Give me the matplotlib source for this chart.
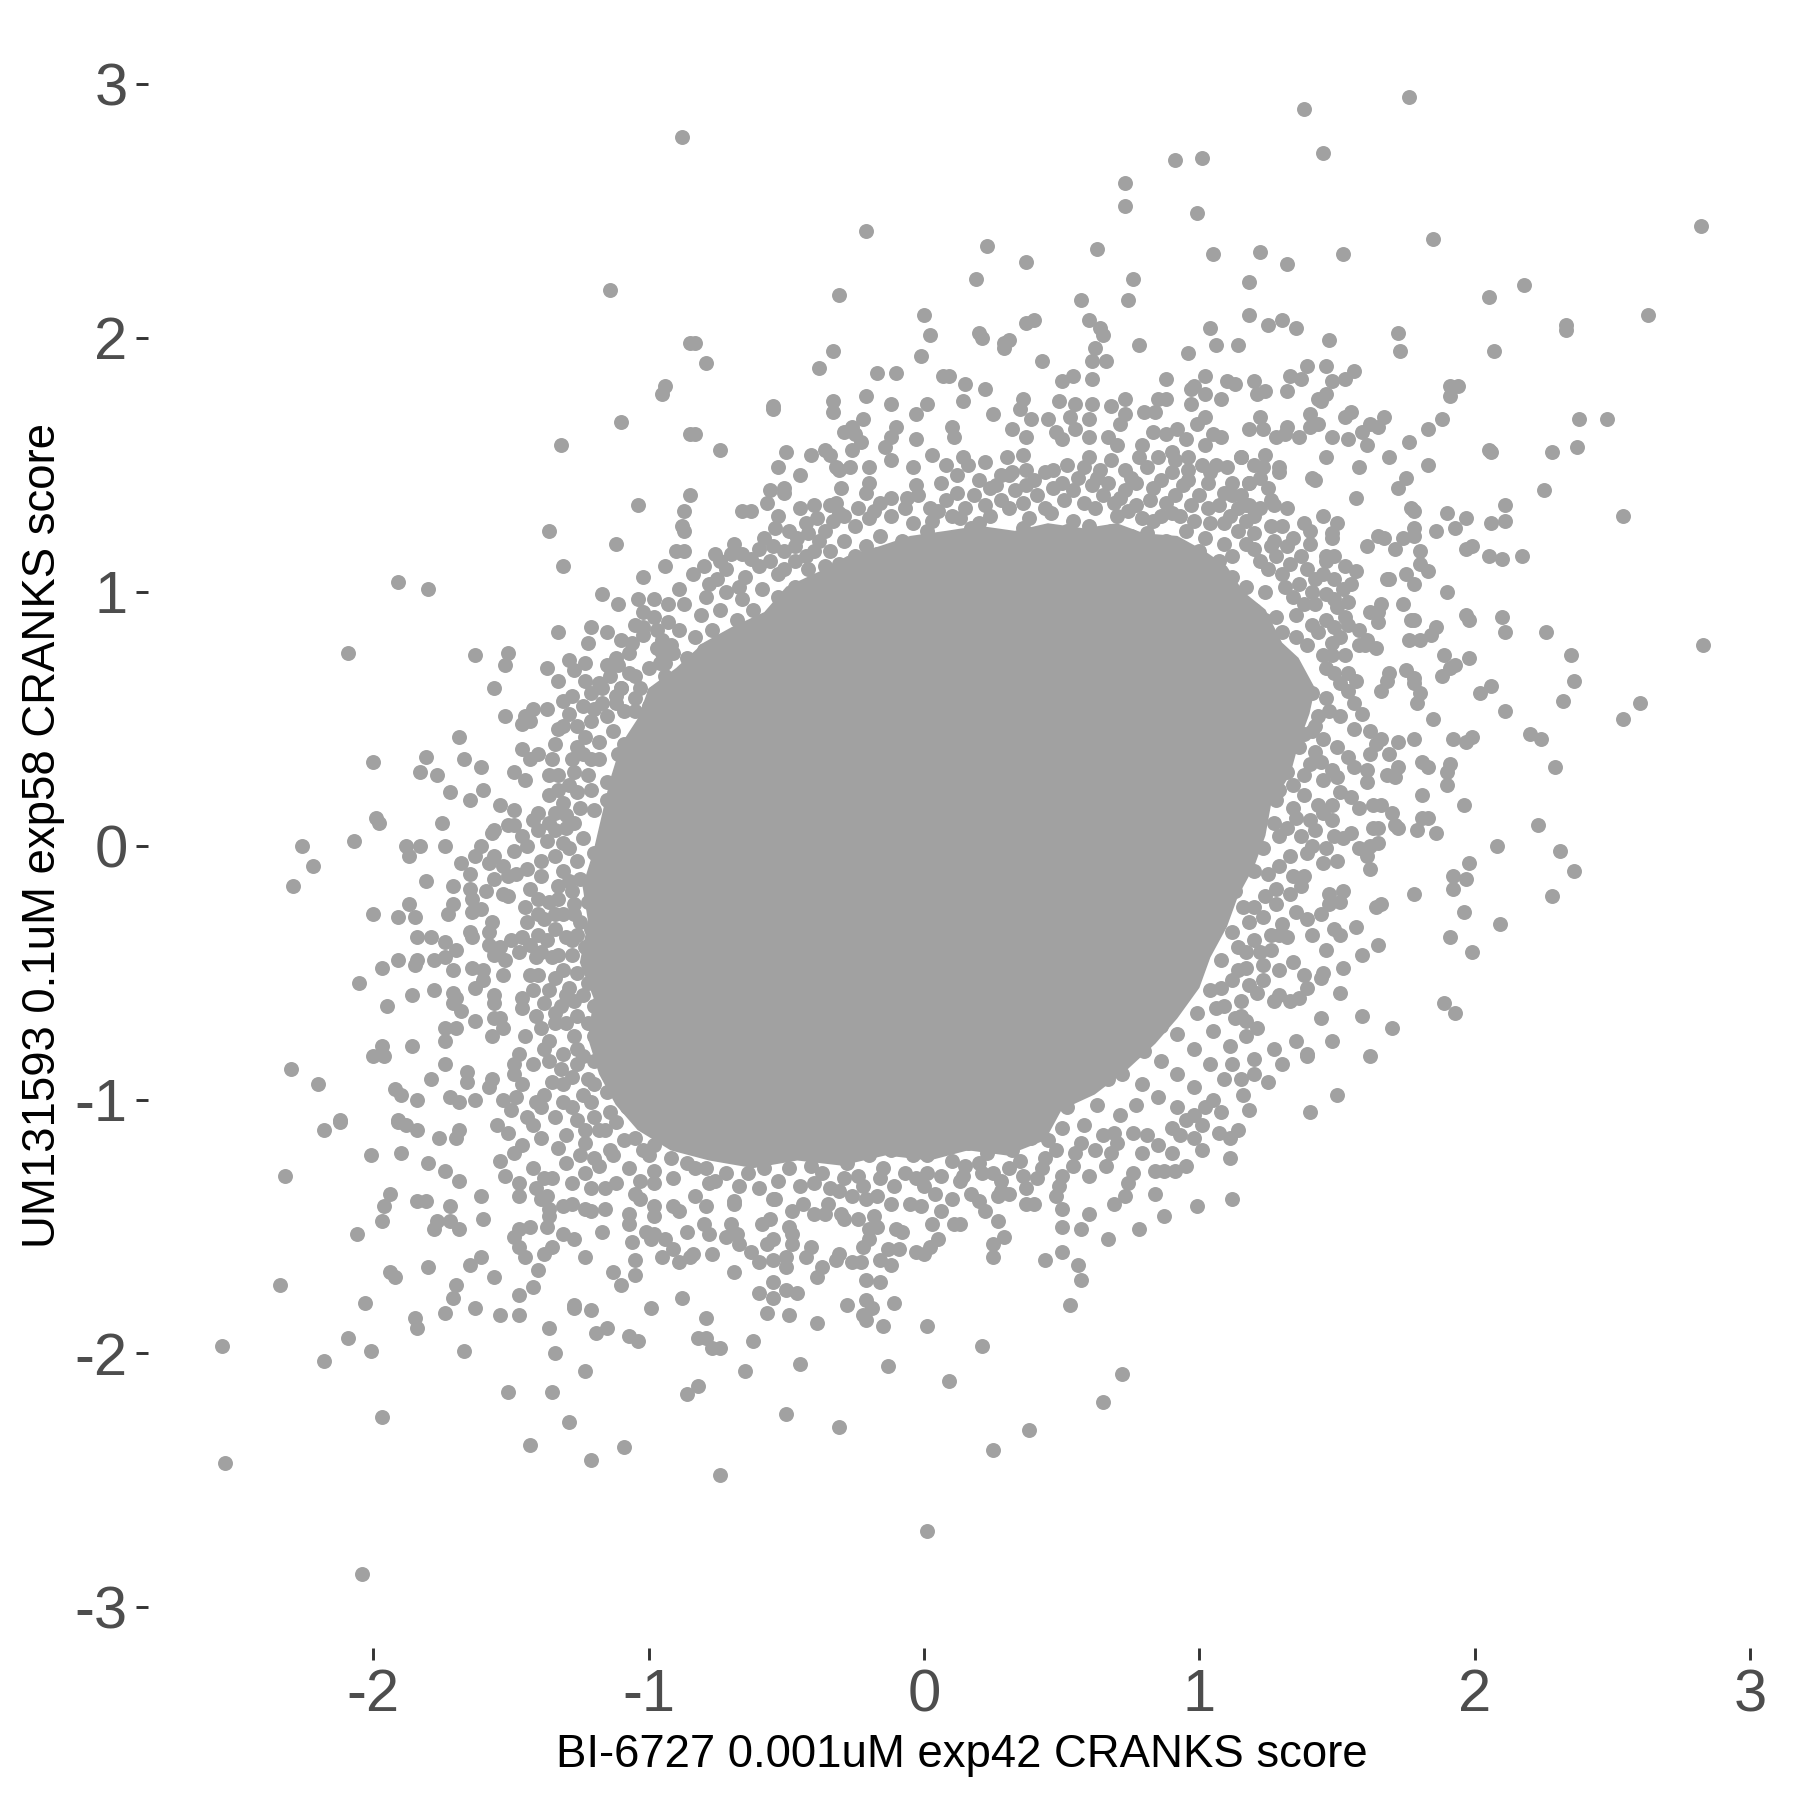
import numpy as np
import matplotlib
matplotlib.use("Agg")
import matplotlib.pyplot as plt

plt.rcParams['font.family'] = ['Liberation Sans', 'DejaVu Sans']
plt.rcParams['axes.unicode_minus'] = False

x_label = "BI-6727 0.001uM exp42 CRANKS score"
y_label = "UM131593 0.1uM exp58 CRANKS score"
x_ticks = [-2, -1, 0, 1, 2, 3]
y_ticks = [-3, -2, -1, 0, 1, 2, 3]

# points, region by region (x, y)
top_left = [(-0.88,2.79),(-1.14,2.19),(-0.94,1.81),(-0.95,1.78),(-1.10,1.67),(-1.32,1.58),(-1.04,1.34),(-1.36,1.24),
(-1.12,1.19),(-0.85,1.38),(-0.87,1.32),(-0.88,1.26),(-0.87,1.24),(-0.90,1.16),(-0.87,1.16),(-0.85,1.98),(-0.85,1.62)]

top_mid = [(-0.83,1.98),(-0.79,1.90),(-0.83,1.62),(-0.74,1.56),(-0.21,2.42),(-0.31,2.17),(-0.33,1.95),(-0.38,1.88),
(0.00,2.09),(0.02,2.01),(-0.01,1.93),(-0.17,1.86),(-0.10,1.86),(0.07,1.85),(0.09,1.85),(0.15,1.82),(0.22,1.80),
(0.23,2.36),(0.19,2.23),(0.37,2.30),(0.20,2.02),(0.21,2.00),(0.29,1.96),(0.29,1.98),(0.31,1.99),(0.37,2.06),
(0.40,2.07),(0.43,1.91),(0.63,2.35),(0.57,2.15),(0.60,2.07),(0.64,2.04),(0.65,2.01),(0.62,1.96),(0.61,1.91),
(0.66,1.91),(0.61,1.84),(0.50,1.83),(0.54,1.85),(0.73,2.61),(0.73,2.52),(0.91,2.70),(1.01,2.71),(0.99,2.49),
(1.05,2.33),(0.76,2.23),(0.74,2.15),(1.04,2.04),(0.78,1.97),(0.96,1.94),(1.06,1.97),(1.14,1.97),(0.88,1.84),
(1.02,1.85),(0.98,1.81),(0.97,1.80),(1.02,1.78),(1.10,1.83),(1.13,1.82),(1.08,1.76),(0.73,1.76),(0.97,1.74),
(0.88,1.76),(0.85,1.76),(0.61,1.74),(0.49,1.75),(0.36,1.76),(0.35,1.72),(0.25,1.70),(0.14,1.75),(0.01,1.74),
(-0.03,1.70),(-0.12,1.74),(-0.21,1.77),(-0.33,1.75),(-0.33,1.71),(-0.55,1.73),(-0.55,1.72),(-0.22,1.68),
(-0.26,1.65),(-0.29,1.63),(-0.25,1.62),(-0.10,1.65),(-0.12,1.61),(-0.23,1.59),(-0.26,1.56),(-0.14,1.57),
(-0.12,1.52),(-0.03,1.60),(0.03,1.54),(0.10,1.65),(0.11,1.61),(0.14,1.53),(0.08,1.50),(0.16,1.50),(-0.04,1.49),
(-0.20,1.49),(-0.36,1.56),(-0.34,1.54),(-0.41,1.54),(-0.50,1.55),(-0.53,1.49),(-0.45,1.46),(-0.32,1.49),
(-0.27,1.49),(-0.31,1.48),(-0.30,1.41),(-0.20,1.43),(-0.21,1.39),(-0.51,1.41),(-0.51,1.39),(-0.56,1.40),
(-0.57,1.35),(-0.66,1.32),(-0.63,1.32),(-0.53,1.30),(-0.45,1.33),(-0.40,1.34),(-0.39,1.29),(-0.34,1.34),
(-0.32,1.35),(-0.31,1.31),(-0.58,1.21),(-0.55,1.18),(-0.51,1.16),(-0.46,1.21),(-0.42,1.23),(-0.40,1.16),
(-0.76,1.15),(-0.70,1.15),(-0.66,1.15),(0.22,1.51),(0.22,1.34),(0.32,1.64),(0.37,1.61),(0.39,1.68),(0.45,1.68),
(0.30,1.53),(0.36,1.54),(0.37,1.48),(0.28,1.46),(0.32,1.47),(0.47,1.48),(0.52,1.50),(0.60,1.53),(0.64,1.48),
(0.68,1.73),(0.73,1.70),(0.71,1.66),(0.55,1.74),(0.53,1.69),(0.60,1.68),(0.50,1.60),(0.48,1.63),(0.55,1.64),
(0.60,1.61),(0.67,1.61),(0.70,1.58),(0.79,1.58),(0.78,1.53),(0.68,1.52),(0.73,1.48),(0.80,1.71),(0.84,1.71),
(0.83,1.63),(0.88,1.62),(0.92,1.64),(0.95,1.60),(0.85,1.53),(0.90,1.55),(0.96,1.53),(0.91,1.52),(1.02,1.69),
(0.99,1.66),(1.05,1.62),(1.02,1.58),(1.08,1.61),(1.15,1.53),(1.01,1.50),(1.06,1.50),(1.10,1.49),(1.04,1.47),
(0.96,1.48),(0.96,1.44),(1.12,1.43),(1.12,1.38),(1.07,1.34),(0.97,1.34),(0.83,1.41),(0.91,1.38),(1.18,1.43),
(0.77,1.43),(0.67,1.43),(0.56,1.45),(0.37,1.42),(0.24,1.41),(0.06,1.43),(-0.03,1.42),(-0.16,1.35),(-0.06,1.37),(0.71,1.37)]

# the crowded band just above the solid core
top_band = [(-0.20,1.29),(-0.12,1.30),(-0.04,1.27),(0.05,1.32),(0.13,1.29),(0.20,1.27),(0.31,1.33),(0.38,1.29),
(0.46,1.31),(0.54,1.28),(0.62,1.33),(0.70,1.30),(0.77,1.34),(0.83,1.28),(0.90,1.31),(1.04,1.27),(1.11,1.30),
(-0.16,1.22),(-0.08,1.20),(0.01,1.24),(0.10,1.21),(0.17,1.25),(0.27,1.22),(0.36,1.25),(0.44,1.21),(0.52,1.24),
(0.60,1.26),(0.68,1.24),(0.75,1.22),(0.81,1.23),(0.88,1.20),(0.95,1.24),(1.02,1.21),(1.09,1.19),(1.14,1.24),
(-0.29,1.20),(-0.34,1.16),(-0.25,1.14),(-0.17,1.15),(-0.11,1.13),(-0.03,1.16),(0.04,1.15),(0.11,1.17),
(0.72,1.17),(0.80,1.15),(0.87,1.16),(0.93,1.13),(1.00,1.16),(1.07,1.12),(1.12,1.14),(1.04,1.08),(0.96,1.06),
(0.91,1.10),(1.12,1.06),(1.17,1.02),(1.09,1.01),(1.14,0.95),(1.20,0.93),(1.24,1.00),(1.28,0.90),(1.25,1.09),(1.31,1.02),
(-0.36,1.10),(-0.42,1.09),(-0.47,1.12),(-0.53,1.07),(-0.60,1.10),(-0.65,1.06),(-0.72,1.09),(-0.78,1.03),
(-0.84,1.07),(-0.79,0.98),(-0.72,1.00),(-0.66,0.97),(-0.59,1.01),(-0.53,0.98),(-0.47,1.02),(-0.41,1.00),
(-0.36,1.04),(-0.30,1.06),(-0.89,1.01),(-0.87,0.95),(-0.81,0.91),(-0.74,0.93),(-0.68,0.89),(-0.62,0.93),
(-0.56,0.90),(-0.50,0.95),(-0.93,0.88),(-0.89,0.85),(-0.83,0.82),(-0.77,0.85),(-0.71,0.81),(-0.64,0.84),
(-0.58,0.82),(-0.54,0.86),(-0.97,0.78),(-0.91,0.76),(-0.86,0.74),(-0.80,0.77),(-0.74,0.73),(-0.68,0.76),
(-1.00,0.70),(-0.94,0.67),(-0.88,0.68),(-0.83,0.70),(-0.77,0.66),(-1.03,0.62),(-0.98,0.60),(-0.92,0.63),
(-0.87,0.60),(-1.05,0.53),(-1.00,0.55),(-0.95,0.52),(-0.90,0.55),
(-0.18,1.32),(-0.12,1.37),(-0.07,1.33),(-0.02,1.38),(0.03,1.28),(0.08,1.36),(0.12,1.39),(0.15,1.33),(0.18,1.38),
(0.24,1.30),(0.28,1.36),(0.33,1.40),(0.36,1.35),(0.41,1.38),(0.44,1.33),(0.47,1.41),(0.51,1.36),(0.54,1.40),
(0.58,1.35),(0.61,1.42),(0.65,1.38),(0.69,1.35),(0.73,1.40),(0.74,1.32),(0.79,1.29),(0.82,1.36),(0.86,1.30),
(0.88,1.35),(0.93,1.30),(0.98,1.28),(1.00,1.38),(1.03,1.33),(1.09,1.27),(1.14,1.33),(1.17,1.28),(1.09,1.39),
(-0.25,1.26),(-0.29,1.30),(-0.24,1.33),(-0.36,1.24),(-0.33,1.28),(-0.43,1.27),(-0.49,1.24),(-0.54,1.25),(-0.60,1.17),
(-0.47,1.18),(-0.38,1.20),(-0.21,1.18),(-0.63,1.13),(-0.69,1.19),(-0.74,1.12),(-0.80,1.10),(-0.56,1.12),(-0.43,1.14),
(-0.31,1.11),(-0.51,1.09),(-0.67,1.02),(-0.75,1.05),(-0.93,0.95),(-0.98,0.90),(-0.95,0.81),(-1.02,0.83),(-1.07,0.76),
(-1.05,0.87),(-1.12,0.74),(-1.14,0.67),(-1.07,0.68),(-1.17,0.62),(-1.12,0.59),(-1.21,0.60),(-1.15,0.71),(-1.02,0.92),
(0.02,1.33),(0.10,1.30),(0.26,1.42),(0.40,1.44),(0.50,1.43),(0.63,1.45),(0.75,1.45),(0.86,1.44),(0.94,1.42),(1.03,1.43),
(0.12,1.46),(0.20,1.44),(0.31,1.46),(0.44,1.47),(0.58,1.49),(0.81,1.49),(0.90,1.47),(1.15,1.38),(1.18,1.34)]

top_right = [(1.38,2.90),(1.76,2.95),(1.45,2.73),(2.82,2.44),(1.85,2.39),(1.22,2.34),(1.32,2.29),(1.52,2.33),(1.18,2.22),
(2.18,2.21),(2.05,2.16),(1.18,2.09),(1.25,2.05),(1.30,2.07),(1.35,2.04),(2.63,2.09),(2.33,2.05),(2.33,2.03),
(1.72,2.02),(1.73,1.95),(2.07,1.95),(1.47,1.99),(1.39,1.89),(1.46,1.89),(1.56,1.87),(1.53,1.84),(1.48,1.83),
(1.33,1.85),(1.37,1.84),(1.20,1.83),(1.24,1.79),(1.21,1.78),(1.32,1.79),(1.46,1.78),(1.43,1.76),(1.44,1.75),
(1.91,1.81),(1.94,1.81),(1.91,1.77),(1.55,1.71),(1.53,1.69),(1.40,1.70),(1.22,1.69),(1.67,1.69),(1.62,1.66),
(1.65,1.65),(1.59,1.63),(1.18,1.64),(1.23,1.64),(1.32,1.65),(1.40,1.65),(1.43,1.66),(1.31,1.62),(1.28,1.61),
(1.36,1.61),(1.48,1.61),(1.54,1.60),(1.61,1.58),(1.76,1.59),(1.83,1.64),(1.88,1.68),(2.38,1.68),(2.48,1.68),
(2.05,1.56),(2.06,1.55),(2.28,1.55),(2.37,1.57),(1.46,1.53),(1.69,1.53),(1.83,1.50),(1.58,1.49),(1.24,1.54),
(1.15,1.53),(1.20,1.50),(1.23,1.49),(1.29,1.49),(1.29,1.47),(1.41,1.45),(1.42,1.44),(1.75,1.45),(1.72,1.41),
(1.18,1.43),(1.22,1.45),(1.25,1.41),(2.25,1.40),(1.57,1.37),(1.26,1.36),(2.11,1.34),(1.27,1.34),(1.32,1.33),
(1.22,1.33),(1.17,1.34),(1.20,1.30),(1.77,1.33),(1.78,1.32),(2.54,1.30),(1.45,1.30),(1.90,1.31),(1.97,1.29),
(2.11,1.28),(2.06,1.27),(1.50,1.27),(1.38,1.27),(1.30,1.26),(1.26,1.26),(1.40,1.24),(1.78,1.25),(1.93,1.25),
(1.86,1.24),(1.48,1.23),(1.48,1.21),(1.65,1.22),(1.67,1.21),(1.74,1.21),(1.78,1.22),(1.34,1.21),(1.32,1.18),
(1.40,1.19),(1.61,1.18),(1.71,1.17),(1.80,1.16),(1.97,1.17),(1.99,1.18),(2.05,1.14),(2.10,1.13),(2.17,1.14),
(1.37,1.14),(1.46,1.14),(1.49,1.14),(1.20,1.17),(1.26,1.18),(1.20,1.23),(1.17,1.19),
(1.22,1.12),(1.28,1.14),(1.33,1.11),(1.39,1.09),(1.30,1.07),(1.36,1.03),(1.42,1.05),(1.27,1.20),(1.34,0.98),(1.38,0.95)]

right = [(2.83,0.79),(2.35,0.75),(2.36,0.65),(2.26,0.84),(2.10,0.90),(2.11,0.84),(1.97,0.91),(1.98,0.89),(1.90,1.00),
(1.75,1.07),(1.78,1.03),(1.83,1.08),(1.80,1.11),(1.68,1.05),(1.69,1.05),(1.74,0.95),(1.66,0.95),(1.62,0.92),
(1.65,0.88),(1.65,0.92),(1.77,0.89),(1.78,0.89),(1.86,0.86),(1.84,0.83),(1.80,0.81),(1.76,0.81),(1.89,0.75),
(1.98,0.74),(1.93,0.71),(1.91,0.70),(1.88,0.67),(1.75,0.69),(1.78,0.66),(1.78,0.64),(1.69,0.68),(1.68,0.65),
(1.66,0.61),(1.80,0.60),(1.79,0.56),(1.85,0.50),(2.06,0.63),(2.02,0.60),(2.11,0.53),(2.32,0.57),(2.60,0.56),
(2.54,0.50),(2.20,0.44),(2.24,0.42),(1.99,0.43),(1.97,0.41),(1.92,0.42),(1.78,0.42),(1.72,0.41),(1.59,0.52),
(1.56,0.46),(1.62,0.45),(1.66,0.42),(1.64,0.40),(1.62,0.36),(1.69,0.36),(2.29,0.31),(1.81,0.33),(1.83,0.31),
(1.91,0.32),(1.90,0.29),(1.90,0.24),(1.72,0.31),(1.71,0.27),(1.68,0.28),(1.61,0.30),(1.61,0.25),(1.81,0.20),
(1.96,0.16),(1.63,0.16),(1.66,0.16),(1.70,0.13),(1.58,0.15),(1.55,0.19),(1.81,0.11),(1.83,0.11),(1.71,0.08),
(1.72,0.07),(2.23,0.08),(1.63,0.07),(1.65,0.07),(1.79,0.06),(1.86,0.05),(2.08,0.00),(2.31,-0.02),(1.65,0.01),
(1.62,0.00),(1.58,-0.01),(1.61,-0.04),(1.62,-0.09),(1.55,0.05),(1.52,0.03),(1.49,0.04),(1.50,-0.06),(1.98,-0.07),
(2.36,-0.10),(1.92,-0.12),(1.97,-0.13),(1.92,-0.17),(1.78,-0.19),(2.28,-0.20),(1.52,-0.18),(1.47,-0.19),
(1.51,-0.22),(1.47,-0.23),(1.64,-0.24),(1.66,-0.23),(1.96,-0.26),(2.09,-0.31),(1.57,-0.32),(1.49,-0.33),
(1.51,-0.35),(1.41,-0.35),(1.91,-0.36),(1.65,-0.39),(1.59,-0.43),(1.46,-0.41),(1.99,-0.42),(1.32,-0.36),
(1.29,-0.35),(1.26,-0.41),(1.34,-0.46),(1.52,-0.48),(1.45,-0.50),(1.44,-0.52),(1.38,-0.51),(1.39,-0.56),
(1.29,-0.49),(1.23,-0.53),(1.21,-0.58),(1.51,-0.58),(1.29,-0.59),(1.27,-0.61),(1.33,-0.61),(1.36,-0.60),
(1.15,-0.61),(1.89,-0.62),(1.93,-0.66),(1.44,-0.68),(1.59,-0.67),(1.15,-0.67),(1.21,-0.72),(1.70,-0.72),
(1.17,-0.75),(1.35,-0.77),(1.48,-0.77),(1.27,-0.80),(1.20,-0.84),(1.39,-0.82),(1.39,-0.83),(1.62,-0.83),
(1.30,-0.86),(1.25,-0.93),(1.50,-0.98),(1.18,-1.04),(1.40,-1.05)]

right_band = [(1.45,1.07),(1.57,1.08),(1.53,1.10),(1.46,1.12),(1.49,1.05),(1.55,1.03),(1.52,1.01),(1.41,1.00),(1.46,0.99),
(1.49,0.97),(1.54,0.96),(1.42,0.95),(1.50,0.94),(1.35,0.91),(1.46,0.89),(1.53,0.90),(1.41,0.87),(1.54,0.87),
(1.58,0.85),(1.61,0.81),(1.64,0.78),(1.58,0.79),(1.60,0.79),(1.51,0.82),(1.48,0.80),(1.35,0.82),(1.39,0.79),
(1.53,0.75),(1.48,0.75),(1.45,0.75),(1.54,0.68),(1.57,0.65),(1.54,0.61),(1.49,0.68),(1.41,0.60),(1.46,0.58),
(1.56,0.56),(1.51,0.51),(1.43,0.51),(1.41,0.45),(1.45,0.42),(1.50,0.39),(1.54,0.35),(1.56,0.31),(1.36,0.39),
(1.42,0.37),(1.40,0.32),(1.48,0.30),(1.45,0.26),(1.50,0.27),(1.51,0.21),(1.38,0.20),(1.28,0.18),(1.43,0.16),
(1.48,0.16),(1.45,0.13),(1.48,0.10),(1.34,0.15),(1.35,0.11),(1.37,0.04),(1.29,0.04),(1.41,0.00),(1.46,-0.01),
(1.39,-0.03),(1.45,-0.07),(1.33,-0.04),(1.38,-0.12),(1.37,-0.16),(1.34,-0.12),(1.28,-0.17),(1.28,-0.23),
(1.35,-0.26),(1.39,-0.29),(1.44,-0.27),(1.23,-0.28),(1.30,-0.31),(1.20,-0.37),(1.17,-0.42),(1.23,-0.47),(1.17,-0.48),
(1.24,0.89),(1.30,0.84),(1.26,0.78),(1.32,0.72),(1.27,0.66),(1.34,0.63),(1.29,0.57),(1.35,0.52),(1.28,0.47),
(1.31,0.41),(1.26,0.35),(1.32,0.29),(1.24,0.26),(1.29,0.22),(1.22,0.13),(1.27,0.09),(1.18,0.06),(1.23,-0.01),
(1.14,-0.05),(1.20,-0.10),(1.13,-0.18),(1.16,-0.24),(1.08,-0.27),(1.12,-0.34),(1.03,-0.38),(1.08,-0.45),
(1.12,-0.53),(0.98,-0.50),(1.04,-0.57),(1.09,-0.63),(0.93,-0.60),(0.99,-0.66),(1.05,-0.73),(1.11,-0.79),
(0.86,-0.71),(0.92,-0.74),(0.98,-0.80),(1.04,-0.86),(1.09,-0.92),(0.80,-0.81),(0.86,-0.85),(0.92,-0.90),(0.98,-0.95),(1.05,-1.00),
(0.72,-0.90),(0.79,-0.94),(0.85,-0.99),(0.92,-1.03),(0.98,-1.06),
(1.43,0.84),(1.49,0.86),(1.46,0.70),(1.51,0.64),(1.47,0.53),(1.42,0.47),(1.38,0.44),(1.44,0.33),(1.38,0.28),(1.34,0.24),
(1.40,0.10),(1.32,0.07),(1.42,0.06),(1.29,-0.08),(1.25,-0.11),(1.33,-0.19),(1.24,-0.20),(1.20,-0.24),(1.18,-0.30),
(1.26,-0.35),(1.14,-0.40),(1.22,-0.42),(1.14,-0.49),(1.18,-0.55),(1.08,-0.56),(1.13,-0.68),(1.06,-0.64),(1.17,-0.69),
(1.12,-0.86),(1.15,-0.92),(1.16,-0.98),(1.08,-1.05),(1.02,-1.03),(0.95,-1.08),(1.20,-0.90)]

left = [(-1.91,1.04),(-1.80,1.01),(-2.09,0.76),(-1.63,0.75),(-1.51,0.76),(-1.52,0.71),(-1.31,1.10),(-1.17,0.99),(-1.04,0.97),
(-0.98,0.97),(-1.11,0.95),(-1.02,1.06),(-0.94,1.10),(-1.21,0.86),(-1.33,0.84),(-1.15,0.84),(-1.02,0.86),(-0.97,0.85),
(-1.22,0.80),(-1.10,0.81),(-1.06,0.80),(-0.92,0.79),(-1.11,0.71),(-1.29,0.73),(-1.27,0.69),(-1.23,0.72),(-1.37,0.70),
(-1.33,0.65),(-1.56,0.62),(-1.23,0.65),(-1.18,0.64),(-1.10,0.62),(-1.28,0.59),(-1.31,0.57),(-1.37,0.54),(-1.42,0.54),
(-1.52,0.51),(-1.45,0.51),(-1.46,0.48),(-1.43,0.49),(-1.31,0.47),(-1.33,0.46),(-1.69,0.43),(-1.21,0.49),(-1.23,0.43),
(-1.18,0.41),(-1.34,0.40),(-1.46,0.38),(-1.40,0.36),(-1.43,0.34),(-1.35,0.34),(-1.81,0.35),(-1.67,0.34),(-2.00,0.33),
(-1.61,0.31),(-1.83,0.29),(-1.77,0.28),(-1.49,0.29),(-1.45,0.26),(-1.36,0.28),(-1.33,0.28),(-1.72,0.21),(-1.60,0.22),
(-1.65,0.18),(-1.36,0.20),(-1.54,0.16),(-1.49,0.14),(-1.31,0.17),(-1.40,0.13),(-1.42,0.10),(-1.34,0.13),(-1.99,0.11),
(-1.98,0.09),(-1.75,0.09),(-1.51,0.08),(-1.49,0.08),(-1.56,0.06),(-1.57,0.05),(-2.07,0.02),(-2.26,0.00),(-1.88,0.00),
(-1.83,0.00),(-1.74,0.00),(-1.87,-0.04),(-1.61,0.00),(-1.63,-0.04),(-1.46,0.04),(-1.44,0.00),(-1.49,-0.02),(-2.22,-0.08),
(-1.68,-0.07),(-1.56,-0.04),(-1.58,-0.07),(-1.53,-0.08),(-2.29,-0.16),(-1.65,-0.11),(-1.51,-0.12),(-1.56,-0.13),
(-1.81,-0.14),(-1.71,-0.16),(-1.65,-0.17),(-1.59,-0.18),(-1.53,-0.19),(-1.51,-0.20),(-1.64,-0.21),(-1.71,-0.23),
(-1.87,-0.23),(-1.73,-0.27),(-2.00,-0.27),(-1.91,-0.28),(-1.85,-0.28),(-1.64,-0.26),(-1.61,-0.25),(-1.45,-0.24),
(-1.40,-0.21),(-1.40,-0.27),(-1.38,-0.29),(-1.34,-0.27),(-1.31,-0.27),(-1.27,-0.27),(-1.57,-0.30),(-1.44,-0.30),
(-1.58,-0.34),(-1.65,-0.34),(-1.64,-0.36),(-1.84,-0.36),(-1.79,-0.36),(-1.74,-0.38),(-1.70,-0.41),(-1.58,-0.39),
(-1.54,-0.40),(-1.50,-0.37),(-1.46,-0.36),(-1.40,-0.35),(-1.37,-0.37),(-1.43,-0.39),(-1.30,-0.36),(-1.26,-0.35),
(-1.21,-0.33),(-1.47,-0.42),(-1.39,-0.42),(-1.41,-0.44),(-1.56,-0.43),(-1.52,-0.45),(-1.91,-0.45),(-1.84,-0.45),
(-1.85,-0.47),(-1.78,-0.45),(-1.74,-0.44),(-1.97,-0.48),(-1.71,-0.49),(-1.64,-0.48),(-1.60,-0.49),(-1.53,-0.51),
(-1.43,-0.51),(-1.40,-0.51),(-1.33,-0.43),(-1.26,-0.50),(-2.05,-0.54),(-1.60,-0.53),(-1.34,-0.52),(-1.63,-0.56),
(-1.78,-0.57),(-1.71,-0.58),(-1.56,-0.59),(-1.42,-0.57),(-1.29,-0.56),(-1.86,-0.59),(-1.46,-0.60),(-1.70,-0.60),
(-1.95,-0.63),(-1.71,-0.62),(-1.56,-0.62),(-1.46,-0.64),(-1.38,-0.62),(-1.27,-0.61),(-1.68,-0.65),(-1.32,-0.63),
(-1.41,-0.67),(-1.63,-0.69),(-1.56,-0.68),(-1.54,-0.68),(-1.74,-0.72),(-1.70,-0.72),(-1.53,-0.72),(-1.57,-0.75),
(-1.39,-0.72),(-1.34,-0.70),(-1.30,-0.70),(-1.74,-0.77),(-1.45,-0.75),(-1.97,-0.79),(-1.86,-0.79),(-1.26,-0.80),
(-2.00,-0.83),(-1.96,-0.83),(-1.38,-0.80),(-1.31,-0.82),(-1.47,-0.82),(-1.42,-0.86),(-2.30,-0.88),(-1.74,-0.86),
(-1.49,-0.86),(-1.26,-0.86),(-1.66,-0.89),(-2.20,-0.94),(-1.66,-0.93),(-1.79,-0.92),(-1.57,-0.92),(-1.58,-0.95),
(-1.49,-0.90),(-1.32,-0.88),(-1.46,-0.94),(-1.92,-0.96),(-1.90,-0.98),(-1.72,-0.99),(-1.84,-1.00),(-1.69,-1.01),
(-1.63,-1.00),(-1.53,-1.00),(-1.48,-0.99),(-1.41,-1.01),(-1.38,-0.98),(-1.31,-0.94),(-1.31,-1.01),(-1.39,-1.03),
(-1.20,-0.94),(-1.28,-1.03),(-1.50,-1.04),(-2.12,-1.08),(-1.91,-1.08)]

left_band = [(-1.17,0.56),(-1.12,0.56),(-1.20,0.54),(-1.15,0.51),(-1.13,0.45),(-1.09,0.53),(-1.05,0.58),(-1.05,0.67),
(-1.10,0.62),(-0.96,0.72),(-0.95,0.76),(-0.94,0.72),(-1.09,0.40),(-1.11,0.36),(-1.09,0.31),(-1.26,0.39),(-1.24,0.36),
(-1.28,0.34),(-1.18,0.34),(-1.27,0.29),(-1.22,0.28),(-1.15,0.25),(-1.21,0.22),(-1.09,0.24),(-1.15,0.18),(-1.07,0.20),
(-1.25,0.15),(-1.20,0.14),(-1.12,0.13),(-1.30,0.07),(-1.24,0.03),(-1.34,0.06),(-1.37,0.02),(-1.31,0.01),(-1.15,0.04),
(-1.20,-0.03),(-1.34,-0.04),(-1.26,-0.06),(-1.15,-0.06),(-1.48,-0.11),(-1.44,-0.09),(-1.39,-0.12),(-1.33,-0.16),
(-1.25,-0.13),(-1.20,-0.14),(-1.43,-0.17),(-1.33,-0.21),(-1.28,-0.18),(-1.22,-0.22),(-1.16,-0.25),(-1.17,-0.31),
(-1.20,-0.41),(-1.28,-0.43),(-1.15,-0.47),(-1.20,-0.51),(-1.15,-0.56),(-1.20,-0.63),(-1.15,-0.69),(-1.20,-0.75),
(-1.15,-0.80),(-1.20,-0.85),(-1.14,-0.90),(-1.15,-0.97),(-1.21,-1.01),(-1.08,-1.03),(-1.12,-1.09),(-1.03,-1.07),
(-0.97,-1.10),(-1.05,-1.15),(-1.16,-1.12),(-0.98,-1.18),(-0.90,-1.14),(-0.84,-1.18),(-0.92,-1.23),(-0.86,-1.25),
(-1.26,0.47),(-1.29,0.52),(-1.24,0.55),(-1.33,0.22),(-1.29,0.24),(-1.26,0.21),(-1.21,0.34),(-1.36,0.09),(-1.30,0.12),
(-1.27,0.09),(-1.40,0.06),(-1.29,-0.01),(-1.39,-0.06),(-1.31,-0.10),(-1.29,-0.14),(-1.36,-0.22),(-1.27,-0.23),
(-1.25,-0.30),(-1.34,-0.33),(-1.28,-0.37),(-1.35,-0.44),(-1.23,-0.40),(-1.31,-0.49),(-1.22,-0.54),(-1.36,-0.57),
(-1.30,-0.59),(-1.24,-0.59),(-1.34,-0.66),(-1.26,-0.67),(-1.22,-0.70),(-1.36,-0.77),(-1.27,-0.75),(-1.24,-0.83),
(-1.36,-0.85),(-1.28,-0.91),(-1.22,-0.92),(-1.35,-0.93),(-1.24,-0.98),(-1.34,-1.07),(-1.26,-1.08),(-1.20,-1.07),
(-1.44,-1.07),(-1.14,-1.05),(-1.09,-1.16),(-1.23,-1.12),(-1.02,-1.20),(-1.13,-1.22)]

bottom_left = [(-2.18,-1.12),(-2.12,-1.09),(-1.91,-1.09),(-1.88,-1.10),(-1.84,-1.12),(-1.76,-1.15),(-1.70,-1.15),(-1.69,-1.12),
(-1.55,-1.10),(-1.51,-1.13),(-1.42,-1.10),(-1.39,-1.15),(-1.30,-1.14),(-1.18,-1.12),(-1.46,-1.18),(-1.33,-1.19),
(-1.49,-1.21),(-2.01,-1.22),(-1.90,-1.21),(-2.32,-1.30),(-1.80,-1.25),(-1.74,-1.28),(-1.69,-1.32),(-1.54,-1.24),
(-1.52,-1.30),(-1.42,-1.27),(-1.47,-1.33),(-1.23,-1.17),(-1.14,-1.20),(-1.25,-1.22),(-1.20,-1.23),(-1.30,-1.25),
(-1.18,-1.26),(-1.28,-1.33),(-1.23,-1.29),(-1.35,-1.31),(-1.38,-1.31),(-1.41,-1.35),(-1.47,-1.38),(-1.37,-1.38),
(-1.39,-1.39),(-1.21,-1.35),(-1.16,-1.35),(-1.12,-1.33),(-1.07,-1.27),(-1.00,-1.22),(-0.98,-1.28),(-1.03,-1.32),
(-0.91,-1.31),(-1.05,-1.37),(-0.98,-1.33),(-1.03,-1.39),(-1.94,-1.37),(-1.96,-1.42),(-1.97,-1.48),(-1.84,-1.40),
(-1.81,-1.40),(-1.72,-1.42),(-1.61,-1.38),(-1.60,-1.47),(-1.77,-1.48),(-1.78,-1.51),(-1.72,-1.48),(-1.69,-1.51),
(-2.06,-1.53),(-1.31,-1.42),(-1.28,-1.41),(-1.36,-1.43),(-1.36,-1.46),(-1.37,-1.50),(-1.23,-1.43),(-1.21,-1.44),
(-1.16,-1.43),(-1.07,-1.45),(-1.07,-1.49),(-0.98,-1.42),(-0.98,-1.46),(-0.91,-1.42),(-0.89,-1.44),(-1.43,-1.50),
(-1.47,-1.51),(-1.49,-1.54),(-1.47,-1.58),(-1.45,-1.62),(-1.31,-1.53),(-1.27,-1.55),(-1.17,-1.52),(-1.01,-1.52),
(-0.98,-1.53),(-0.99,-1.55),(-1.06,-1.56),(-0.94,-1.55),(-1.35,-1.58),(-1.38,-1.61),(-1.23,-1.62),(-1.05,-1.63),
(-0.91,-1.59),(-0.95,-1.62),(-0.89,-1.64),(-0.85,-1.62),(-0.86,-1.52),(-1.61,-1.62),(-1.65,-1.65),(-1.80,-1.66),
(-1.94,-1.68),(-1.92,-1.70),(-1.56,-1.70),(-1.40,-1.67),(-1.13,-1.68),(-1.05,-1.69),(-1.10,-1.73),(-1.70,-1.73),
(-2.34,-1.73),(-1.42,-1.74),(-1.47,-1.77),(-1.71,-1.78),(-0.88,-1.78),(-2.03,-1.80),(-1.63,-1.82),(-1.74,-1.84),
(-1.27,-1.81),(-1.27,-1.82),(-1.21,-1.83),(-0.99,-1.82),(-1.54,-1.85),(-1.47,-1.85),(-1.85,-1.86),(-1.84,-1.90),
(-1.36,-1.90),(-1.15,-1.90),(-1.19,-1.92),(-1.07,-1.93),(-1.04,-1.95),(-2.09,-1.94),(-2.55,-1.97),(-2.01,-1.99),
(-1.67,-1.99),(-1.34,-2.00),(-2.18,-2.03),(-1.23,-2.07),(-1.51,-2.15),(-1.35,-2.15),(-0.86,-2.16),(-1.97,-2.25),
(-1.29,-2.27),(-1.43,-2.36),(-1.09,-2.37),(-1.21,-2.42),(-2.54,-2.43),(-2.04,-2.87)]

bottom_mid = [(0.01,-2.70),(-0.74,-2.48),(0.25,-2.38),(0.38,-2.30),(-0.50,-2.24),(-0.31,-2.29),(0.65,-2.19),(0.72,-2.08),
(0.09,-2.11),(-0.82,-2.13),(-0.65,-2.07),(-0.45,-2.04),(-0.13,-2.05),(0.21,-1.97),(-0.62,-1.95),(-0.82,-1.94),
(-0.79,-1.94),(-0.77,-1.98),(-0.74,-1.98),(-0.79,-1.86),(-0.39,-1.88),(-0.15,-1.89),(0.01,-1.89),(-0.21,-1.87),
(-0.22,-1.85),(-0.49,-1.85),(-0.57,-1.84),(-0.11,-1.80),(-0.28,-1.81),(-0.19,-1.82),(-0.21,-1.79),(0.53,-1.81),
(-0.60,-1.76),(-0.55,-1.78),(-0.50,-1.75),(-0.46,-1.76),(-0.55,-1.72),(-0.21,-1.71),(-0.16,-1.72),(0.57,-1.71),
(0.56,-1.65),(-0.69,-1.68),(-0.39,-1.70),(-0.37,-1.66),(-0.50,-1.66),(0.44,-1.63),(0.50,-1.60),(0.25,-1.62),
(0.25,-1.57),(0.29,-1.54),(0.05,-1.55),(0.02,-1.58),(-0.03,-1.60),(0.00,-1.61),(-0.09,-1.59),(-0.13,-1.59),
(-0.12,-1.65),(-0.16,-1.63),(-0.23,-1.64),(-0.26,-1.64),(-0.32,-1.63),(-0.31,-1.61),(-0.43,-1.62),(-0.41,-1.58),
(-0.55,-1.63),(-0.50,-1.62),(-0.60,-1.64),(-0.63,-1.60),(-0.67,-1.57),(-0.77,-1.61),(-0.84,-1.61),(-0.57,-1.57),
(-0.55,-1.55),(-0.48,-1.57),(-0.48,-1.53),(-0.49,-1.50),(-0.22,-1.58),(-0.20,-1.55),(0.67,-1.55),(0.57,-1.51),
(0.50,-1.50),(0.78,-1.51),(0.87,-1.46),(0.60,-1.45),(0.50,-1.43),(0.99,-1.42),(1.12,-1.39),(0.84,-1.37),(0.69,-1.41),
(0.73,-1.38),(0.48,-1.38),(0.40,-1.41),(0.37,-1.41),(0.37,-1.35),(0.27,-1.48),(0.22,-1.44),(0.20,-1.40),(0.17,-1.37),
(0.13,-1.49),(0.11,-1.49),(0.03,-1.49),(0.06,-1.44),(0.10,-1.39),(0.31,-1.37),(0.27,-1.38),(0.28,-1.36),(-0.08,-1.52),
(-0.10,-1.51),(-0.17,-1.50),(-0.20,-1.51),(-0.18,-1.46),(-0.24,-1.47),(-0.29,-1.47),(-0.30,-1.45),(-0.36,-1.45),
(-0.40,-1.45),(-0.48,-1.44),(-0.56,-1.47),(-0.59,-1.49),(-0.70,-1.49),(-0.72,-1.54),(-0.78,-1.53),(-0.80,-1.49),
(-0.79,-1.42),(-0.83,-1.38),(-0.68,-1.53),(-0.12,-1.41),(-0.01,-1.42),(-0.05,-1.41),(-0.26,-1.38),(-0.21,-1.39),
(-0.17,-1.38),(-0.35,-1.41),(-0.44,-1.41),(-0.54,-1.39),(-0.69,-1.41),(0.79,-1.21),(0.90,-1.21),(1.01,-1.20),
(1.11,-1.23),(1.07,-1.13),(1.11,-1.15),(1.14,-1.12),(1.01,-1.10),(0.93,-1.14),(0.90,-1.11),(0.81,-1.14),(0.76,-1.13),
(0.69,-1.13),(0.65,-1.14),(0.57,-1.17),(0.62,-1.20),(0.68,-1.21),(0.76,-1.29),(0.74,-1.33),(0.84,-1.28),(0.87,-1.28),
(0.91,-1.28),(0.95,-1.26),(0.54,-1.26),(0.50,-1.30),(0.49,-1.34),(0.41,-1.31),(0.36,-1.30),(0.44,-1.23),(0.48,-1.20),
(0.45,-1.16),(0.50,-1.11),(0.58,-1.10),(0.39,-1.15),(0.32,-1.20),(0.35,-1.24),(0.25,-1.29),(0.21,-1.29),(0.20,-1.25),
(0.15,-1.26),(0.10,-1.24),(0.13,-1.32),(0.06,-1.30),(0.00,-1.34),(0.01,-1.29),(-0.11,-1.34),(0.01,-1.22),(0.16,-1.17),
(0.23,-1.21),(0.06,-1.17),(-0.04,-1.22),(-0.15,-1.27),(-0.07,-1.29),(-0.22,-1.34),(-0.29,-1.31),(-0.24,-1.30),
(-0.34,-1.35),(-0.40,-1.33),(-0.41,-1.26),(-0.49,-1.27),(-0.45,-1.34),(-0.55,-1.39),(-0.60,-1.35),(-0.67,-1.34),
(-0.76,-1.32),(-0.72,-1.29),(-0.79,-1.27),(-0.83,-1.27),(-0.69,-1.40),(-0.66,-1.20),(-0.51,-1.21),(-0.81,-1.18),
(-0.33,-1.21),(-0.20,-1.22),(-0.07,-1.17),(-0.58,-1.27),(-0.28,-1.25),(-0.12,-1.20),
(0.30,-1.10),(0.37,-1.05),(0.42,-1.09),(0.46,-1.01),(0.52,-1.03),(0.57,-0.96),(0.63,-1.02),(0.67,-0.92),(0.71,-1.06),(0.77,-1.02),
(-0.78,-1.33),(-0.64,-1.29),(-0.53,-1.32),(-0.37,-1.29),(-0.31,-1.36),(-0.16,-1.31),(-0.03,-1.31),(0.04,-1.37),(0.14,-1.30),
(0.31,-1.27),(0.43,-1.27),(0.55,-1.21),(0.66,-1.26),(0.60,-1.30),(0.70,-1.17),(0.85,-1.18),(0.98,-1.15),(0.28,-1.32)]

# saturated middle of the cloud, where the points merge into one solid shape
core_x = [-0.05,0.08,0.20,0.33,0.45,0.58,0.70,0.80,0.92,1.02,1.10,1.16,1.24,1.30,1.36,1.42,1.40,1.36,1.33,1.26,1.24,1.20,
          1.14,1.10,1.04,1.00,0.92,0.84,0.74,0.62,0.50,0.44,0.30,0.16,0.02,-0.14,-0.30,-0.46,-0.62,-0.78,-0.92,-1.04,-1.12,
          -1.18,-1.22,-1.20,-1.25,-1.22,-1.24,-1.20,-1.17,-1.14,-1.10,-1.04,-1.00,-0.90,-0.80,-0.70,-0.58,-0.50,-0.38,-0.28,-0.16]
core_y = [1.22,1.24,1.26,1.24,1.27,1.25,1.27,1.23,1.22,1.16,1.10,1.00,0.93,0.80,0.74,0.62,0.52,0.40,0.28,0.16,0.04,-0.08,
          -0.20,-0.32,-0.44,-0.56,-0.68,-0.78,-0.88,-0.98,-1.04,-1.16,-1.22,-1.20,-1.24,-1.22,-1.26,-1.24,-1.27,-1.24,-1.20,-1.12,-1.02,
          -0.90,-0.76,-0.60,-0.46,-0.30,-0.16,-0.02,0.12,0.26,0.40,0.50,0.62,0.70,0.80,0.86,0.92,1.02,1.08,1.14,1.18]

regions = [top_left, top_mid, top_band, top_right, right, right_band, left, left_band, bottom_left, bottom_mid]
pts = np.array([p for r in regions for p in r])

grey = '#A1A1A1'
W, H = 1800, 1800
fig = plt.figure(figsize=(18, 18), dpi=100)
# panel edges in pixels
ax = fig.add_axes([148/W, 1-1648/H, (1776-148)/W, (1648-20)/H])
ax.set_xlim(-2.818, 3.094)
ax.set_ylim(-3.16, 3.252)

ax.fill(core_x, core_y, color=grey, lw=0)
ax.scatter(pts[:, 0], pts[:, 1], s=116, color=grey, linewidths=0)

for s in ax.spines.values():
    s.set_visible(False)
ax.set_xticks(x_ticks)
ax.set_yticks(y_ticks)
ax.set_xticklabels([str(t) for t in x_ticks])
ax.set_yticklabels([str(t) for t in y_ticks])
ax.tick_params(length=8.6, width=2.1, color='#333333', labelcolor='#4D4D4D', labelsize=43, pad=6)

fig.text(962/W, 1-1755/H, x_label, fontsize=32.8, color='black', ha='center', va='center')
fig.text(43/W, 1-835/H, y_label, fontsize=32.8, color='black', ha='center', va='center', rotation=90)

fig.savefig('out.png', dpi=100)
